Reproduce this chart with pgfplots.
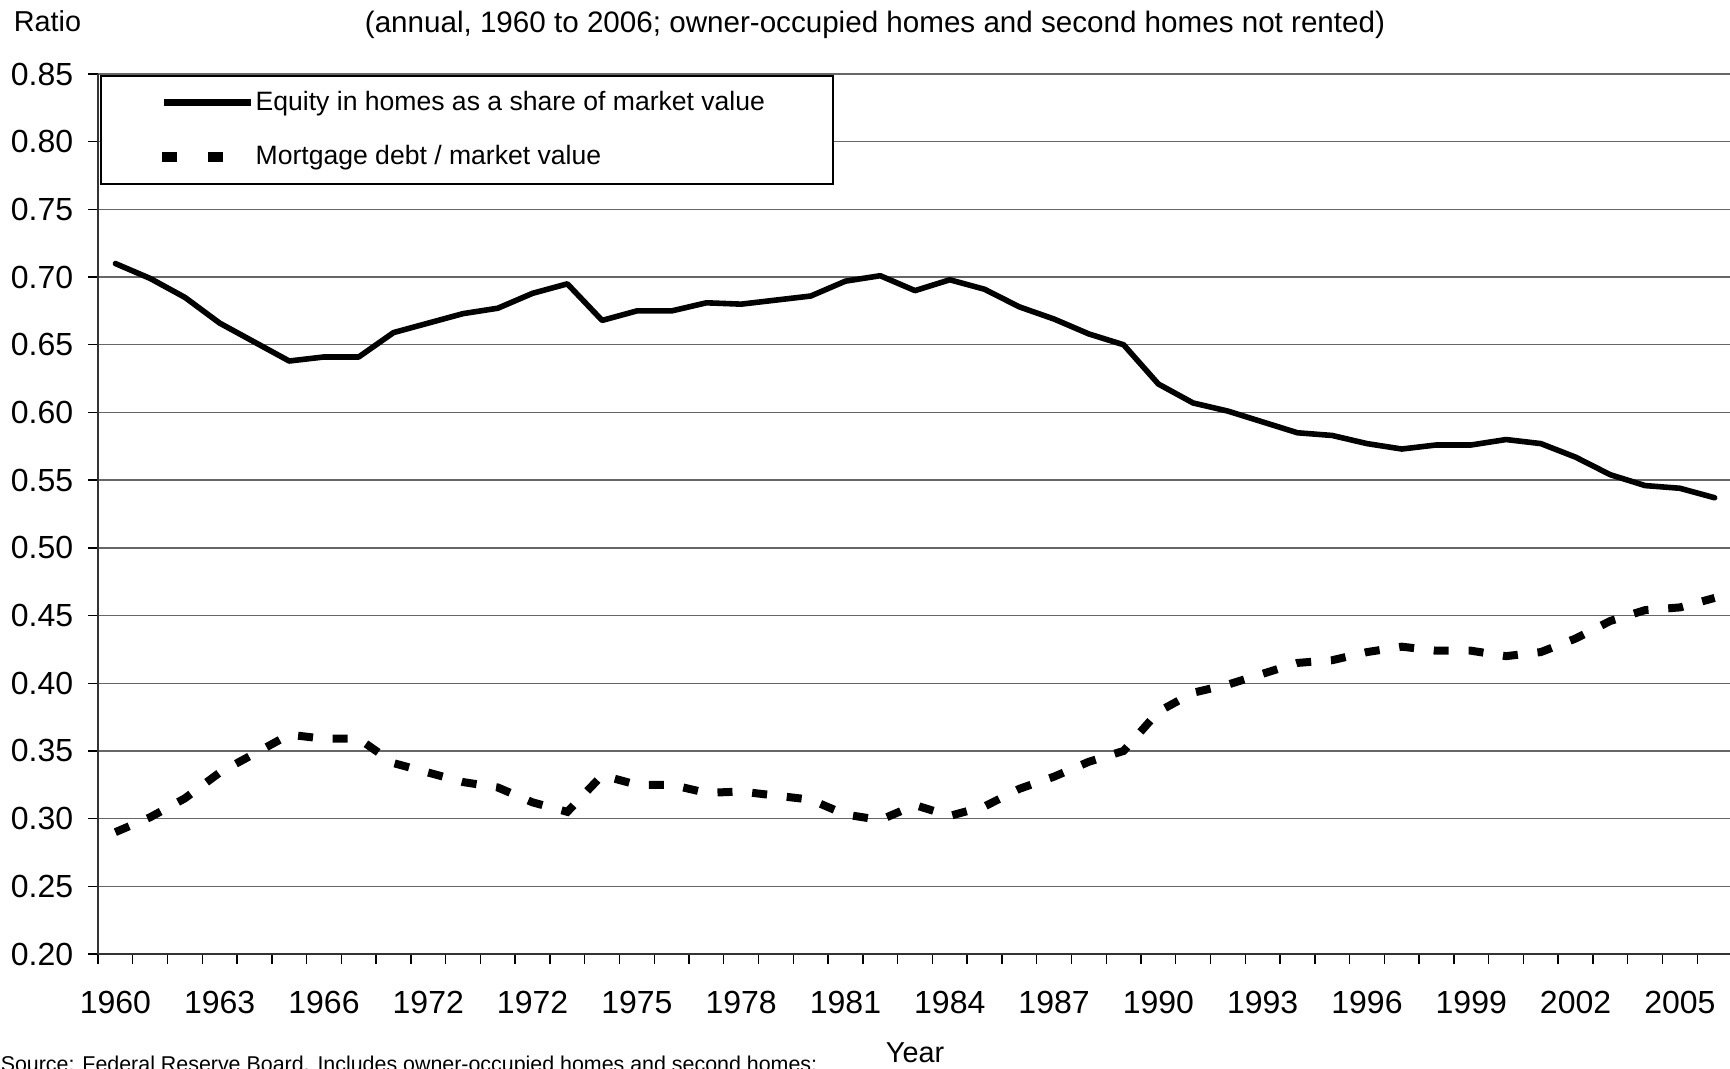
\documentclass[border=0pt]{standalone}
\usepackage{fontspec}
\setmainfont{Liberation Sans}
\usepackage{pgfplots}
\pgfplotsset{compat=1.18}
\usepackage{pgfplotstable}

\pgfplotstableread{
idx year equity debt
0 1960 0.710 0.290
1 1961 0.699 0.301
2 1962 0.685 0.315
3 1963 0.666 0.334
4 1964 0.652 0.348
5 1965 0.638 0.362
6 1966 0.641 0.359
7 1967 0.641 0.359
8 1968 0.659 0.341
9 1969 0.666 0.334
10 1970 0.673 0.327
11 1971 0.677 0.323
12 1972 0.688 0.312
13 1973 0.695 0.305
14 1974 0.668 0.332
15 1975 0.675 0.325
16 1976 0.675 0.325
17 1977 0.681 0.319
18 1978 0.680 0.320
19 1979 0.683 0.317
20 1980 0.686 0.314
21 1981 0.697 0.303
22 1982 0.701 0.299
23 1983 0.690 0.310
24 1984 0.698 0.302
25 1985 0.691 0.309
26 1986 0.678 0.322
27 1987 0.669 0.331
28 1988 0.658 0.342
29 1989 0.650 0.350
30 1990 0.621 0.379
31 1991 0.607 0.393
32 1992 0.601 0.399
33 1993 0.593 0.407
34 1994 0.585 0.415
35 1995 0.583 0.417
36 1996 0.577 0.423
37 1997 0.573 0.427
38 1998 0.576 0.424
39 1999 0.576 0.424
40 2000 0.580 0.420
41 2001 0.577 0.423
42 2002 0.567 0.433
43 2003 0.554 0.446
44 2004 0.546 0.454
45 2005 0.544 0.456
46 2006 0.537 0.463
}\datatable

\begin{document}
\begin{tikzpicture}
\begin{axis}[
  at={(24.5pt,28.5pt)}, anchor=south west,
  scale only axis, width=408.5pt, height=220pt,
  xmin=-0.5, xmax=46.5, ymin=0.2, ymax=0.85,
  axis lines*=left,
  axis line style={black!80, line width=0.5pt},
  tick align=outside,
  major tick length=2.5pt,
  tick style={black, line width=0.35pt},
  ytick={0.20,0.25,0.30,0.35,0.40,0.45,0.50,0.55,0.60,0.65,0.70,0.75,0.80,0.85},
  ymajorgrids,
  major grid style={black!60, line width=0.35pt},
  /pgf/number format/assume math mode=true,
  yticklabel style={/pgf/number format/fixed, /pgf/number format/fixed zerofill, /pgf/number format/precision=2},
  yticklabel style={anchor=east, inner sep=0pt, xshift=-3.5pt, font=\fontsize{8}{9.6}\selectfont},
  xtick={-0.5,0.5,...,46.5},
  xticklabels={},
  extra x ticks={0,3,6,9,12,15,18,21,24,27,30,33,36,39,42,45},
  extra x tick labels={1960,1963,1966,1972,1972,1975,1978,1981,1984,1987,1990,1993,1996,1999,2002,2005},
  extra x tick style={tick style={draw=none}, grid=none,
     xticklabel style={anchor=north, inner sep=0pt, yshift=-6.5pt, font=\fontsize{8}{9.6}\selectfont}},
  clip=false,
  legend style={at={(rel axis cs:0,1)}, anchor=north west, xshift=0.5pt, yshift=-0.25pt,
     draw=black, line width=0.4pt, fill=white,
     inner xsep=13.9pt, inner ysep=3.3pt, row sep=6.8pt,
     font=\fontsize{6.64}{7.9}\selectfont,
     nodes={inner ysep=0pt, inner xsep=0.42pt, text height=5.3pt, text depth=1.5pt, anchor=west}},
  legend cell align=left,
]
\addplot[black, line width=1.4pt, line join=round, line cap=round,
  legend image code/.code={\draw[black, solid, line width=1.6pt, line cap=butt] (0pt,0pt) -- (21.75pt,0pt);}]
  table[x=idx, y=equity] {\datatable};
\addlegendentry{Equity in homes as a share of market value\hspace*{2.6pt}}
\addplot[black, line width=2pt, line join=miter, dash pattern=on 3.75pt off 4.95pt,
  legend image code/.code={\draw[black, solid, line width=2.6pt, line cap=butt] (-0.55pt,0pt) -- (3.3pt,0pt) (11pt,0pt) -- (14.9pt,0pt); \path[draw=none] (0pt,0pt) -- (21.75pt,0pt);}]
  table[x=idx, y=debt] {\datatable};
\addlegendentry{Mortgage debt / market value}
\end{axis}
\node[anchor=base west, inner sep=0pt, font=\fontsize{7.2}{8.6}\selectfont] at (3.25pt,259pt) {Ratio};
\node[anchor=base, inner sep=0pt, font=\fontsize{7.4}{8.9}\selectfont] at (218.75pt,258.75pt) {(annual, 1960 to 2006; owner-occupied homes and second homes not rented)};
\node[anchor=base, inner sep=0pt, font=\fontsize{7.2}{8.6}\selectfont] at (228.75pt,1.5pt) {Year};
\node[anchor=base west, inner sep=0pt, font=\fontsize{5.35}{6.4}\selectfont] at (0pt,-0.9pt) {Source: Federal Reserve Board. Includes owner-occupied homes and second homes;};
\pgfresetboundingbox
\useasboundingbox (0,0) rectangle (432.5pt,267pt);
\end{tikzpicture}
\end{document}
